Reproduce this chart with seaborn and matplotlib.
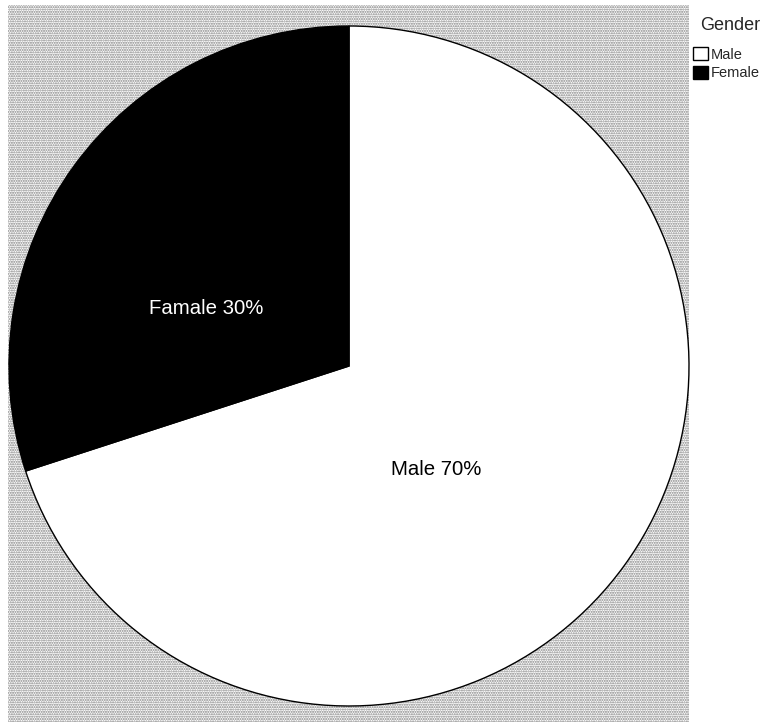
import seaborn as sns
import matplotlib.pyplot as plt
from matplotlib.patches import Rectangle, Patch

# data
genders = ['Male', 'Female']
shares = [70, 30]
slice_labels = ['Male 70%', 'Famale 30%']
slice_colors = ['white', 'black']
label_colors = ['black', 'white']
# where the labels sit (data units, pie radius = 1)
label_pos = [(0.255, -0.305), (-0.42, 0.17)]

sns.set_theme(style='white')
plt.rcParams['font.family'] = ['Liberation Sans', 'DejaVu Sans']

fig = plt.figure(figsize=(7.64, 7.25), dpi=100)
ax = fig.add_axes([8 / 764, 3 / 725, 681 / 764, 717 / 725])

# dotted background
ax.add_patch(Rectangle((0, 0), 1, 1, transform=ax.transAxes, facecolor='white',
                       edgecolor='#808080', hatch='.......', linewidth=0, zorder=0))

wedges, _ = ax.pie(shares, colors=slice_colors, startangle=-162, counterclock=True,
                   wedgeprops=dict(edgecolor='black', linewidth=1))
for w in wedges:
    w.set_zorder(2)

for txt, (x, y), c in zip(slice_labels, label_pos, label_colors):
    ax.text(x, y, txt, color=c, fontsize=14.7, ha='center', va='center', zorder=3)

ax.set_aspect('auto')
ax.set_xlim(-341 / 340, 340 / 340)
ax.set_ylim(-356 / 340, 361 / 340)
ax.set_xticks([])
ax.set_yticks([])
for s in ax.spines.values():
    s.set_color('#555555')
    s.set_linewidth(1.2)
    s.set_visible(True)

# legend
fig.text(730 / 764, 1 - 26 / 725, 'Gender', fontsize=13, ha='center', va='center')
handles = [Patch(facecolor=c, edgecolor='black', linewidth=1) for c in slice_colors]
fig.legend(handles, genders, loc='upper left',
           bbox_to_anchor=(693 / 764, 1 - 47 / 725), frameon=False,
           fontsize=10.5, handlelength=1.0, handleheight=1.0,
           handletextpad=0.2, labelspacing=0.3, borderpad=0, borderaxespad=0)

fig.savefig('out.png', dpi=100)
